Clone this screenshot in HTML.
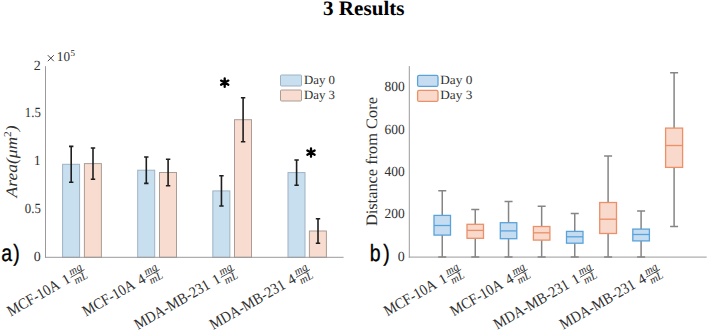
<!DOCTYPE html>
<html><head><meta charset="utf-8">
<style>
html,body{margin:0;padding:0;background:#fff;width:708px;height:330px;overflow:hidden}
svg{display:block}
text{font-family:"Liberation Serif",serif;text-rendering:geometricPrecision}
</style></head><body>
<svg width="708" height="330" viewBox="0 0 708 330">
<text x="323" y="15" font-size="20.5" font-weight="bold" fill="#000" textLength="81.5" lengthAdjust="spacingAndGlyphs">3 Results</text>
<rect x="62.6" y="164.3" width="17.0" height="93.00" fill="#c8dff0" stroke="#9fb2c2" stroke-width="1"/>
<rect x="84.4" y="163.6" width="17.0" height="93.70" fill="#f8dccf" stroke="#ab9c95" stroke-width="1"/>
<rect x="137.7" y="170.2" width="17.0" height="87.10" fill="#c8dff0" stroke="#9fb2c2" stroke-width="1"/>
<rect x="159.5" y="172.5" width="17.0" height="84.80" fill="#f8dccf" stroke="#ab9c95" stroke-width="1"/>
<rect x="212.85" y="190.9" width="17.0" height="66.40" fill="#c8dff0" stroke="#9fb2c2" stroke-width="1"/>
<rect x="234.5" y="119.7" width="17.0" height="137.60" fill="#f8dccf" stroke="#ab9c95" stroke-width="1"/>
<rect x="288.0" y="172.6" width="17.0" height="84.70" fill="#c8dff0" stroke="#9fb2c2" stroke-width="1"/>
<rect x="309.4" y="231.0" width="17.0" height="26.30" fill="#f8dccf" stroke="#ab9c95" stroke-width="1"/>
<path d="M45.5 66.2V257.8M45 257.3H343.6" stroke="#9a9a9a" stroke-width="1" fill="none"/>
<path d="M71.20 146.4V182.20M69.00 146.4h4.4M69.00 182.20h4.4M93.00 148.0V179.20M90.80 148.0h4.4M90.80 179.20h4.4M146.30 157.0V183.40M144.10 157.0h4.4M144.10 183.40h4.4M168.10 159.3V185.70M165.90 159.3h4.4M165.90 185.70h4.4M221.45 175.8V206.00M219.25 175.8h4.4M219.25 206.00h4.4M243.10 97.7V141.70M240.90 97.7h4.4M240.90 141.70h4.4M296.60 160.0V185.20M294.40 160.0h4.4M294.40 185.20h4.4M318.00 218.7V243.30M315.80 218.7h4.4M315.80 243.30h4.4" stroke="#1e1e1e" stroke-width="1.6" fill="none"/>
<path d="M224.70 78.50L224.70 86.90M221.06 80.60L228.34 84.80M228.34 80.60L221.06 84.80" stroke="#000" stroke-width="2.3" stroke-linecap="round" fill="none"/>
<path d="M311.00 148.40L311.00 156.80M307.36 150.50L314.64 154.70M314.64 150.50L307.36 154.70" stroke="#000" stroke-width="2.3" stroke-linecap="round" fill="none"/>
<text x="40.8" y="260.80" font-size="14" text-anchor="end" fill="#303030">0</text>
<text x="40.8" y="213.03" font-size="14" text-anchor="end" fill="#303030" textLength="16" lengthAdjust="spacingAndGlyphs">0.5</text>
<text x="40.8" y="165.25" font-size="14" text-anchor="end" fill="#303030">1</text>
<text x="40.8" y="117.48" font-size="14" text-anchor="end" fill="#303030" textLength="16" lengthAdjust="spacingAndGlyphs">1.5</text>
<text x="40.8" y="69.70" font-size="14" text-anchor="end" fill="#303030">2</text>
<path d="M47.8 55.2L53.8 61.2M53.8 55.2L47.8 61.2" stroke="#303030" stroke-width="0.9"/><text x="56.8" y="61.3" font-size="13.5" fill="#303030" textLength="13.2" lengthAdjust="spacingAndGlyphs">10</text><text x="70.5" y="56.4" font-size="9" fill="#303030">5</text>
<g transform="translate(16.5,161.4) rotate(-90)"><text x="0" y="0" text-anchor="middle" font-size="16" font-style="italic" fill="#303030" textLength="72" lengthAdjust="spacingAndGlyphs">Area(μm<tspan dy="-6" font-size="10.5" font-style="normal">2</tspan><tspan dy="6">)</tspan></text></g>
<rect x="280.5" y="75" width="21" height="11" rx="1" fill="#c8dff0" stroke="#9fb2c2"/>
<rect x="280.5" y="90" width="21" height="11" rx="1" fill="#f8dccf" stroke="#ab9c95"/>
<text x="304" y="84" font-size="12.5" fill="#303030" textLength="31" lengthAdjust="spacingAndGlyphs">Day 0</text>
<text x="304" y="98.6" font-size="12.5" fill="#303030" textLength="31" lengthAdjust="spacingAndGlyphs">Day 3</text>
<g transform="translate(1.2,260.8) scale(0.83,1)"><text x="0" y="0" font-size="23.5" fill="#000" stroke="#000" stroke-width="0.3" letter-spacing="1.5" style="font-family:'Liberation Sans',sans-serif">a)</text></g>
<g transform="translate(369.8,260.8) scale(0.83,1)"><text x="0" y="0" font-size="23.5" fill="#000" stroke="#000" stroke-width="0.3" letter-spacing="3" style="font-family:'Liberation Sans',sans-serif">b)</text></g>
<g transform="translate(86.50,273.00) rotate(-30)" fill="#303030"><text x="-29.5" y="0" font-size="15.5" text-anchor="end" textLength="58" lengthAdjust="spacingAndGlyphs">MCF-10A</text><text x="-17.2" y="0" font-size="14.5" text-anchor="end">1</text><path d="M-16 -4H0" stroke="#303030" stroke-width="0.75"/><text x="-8" y="-5.4" font-size="11" font-style="italic" text-anchor="middle">mg</text><text x="-7.5" y="4.9" font-size="11" font-style="italic" text-anchor="middle">mL</text></g>
<g transform="translate(161.70,273.00) rotate(-30)" fill="#303030"><text x="-29.5" y="0" font-size="15.5" text-anchor="end" textLength="58" lengthAdjust="spacingAndGlyphs">MCF-10A</text><text x="-17.2" y="0" font-size="14.5" text-anchor="end">4</text><path d="M-16 -4H0" stroke="#303030" stroke-width="0.75"/><text x="-8" y="-5.4" font-size="11" font-style="italic" text-anchor="middle">mg</text><text x="-7.5" y="4.9" font-size="11" font-style="italic" text-anchor="middle">mL</text></g>
<g transform="translate(236.70,273.00) rotate(-30)" fill="#303030"><text x="-29.5" y="0" font-size="15.5" text-anchor="end" textLength="84.5" lengthAdjust="spacingAndGlyphs">MDA-MB-231</text><text x="-17.2" y="0" font-size="14.5" text-anchor="end">1</text><path d="M-16 -4H0" stroke="#303030" stroke-width="0.75"/><text x="-8" y="-5.4" font-size="11" font-style="italic" text-anchor="middle">mg</text><text x="-7.5" y="4.9" font-size="11" font-style="italic" text-anchor="middle">mL</text></g>
<g transform="translate(312.00,273.00) rotate(-30)" fill="#303030"><text x="-29.5" y="0" font-size="15.5" text-anchor="end" textLength="84.5" lengthAdjust="spacingAndGlyphs">MDA-MB-231</text><text x="-17.2" y="0" font-size="14.5" text-anchor="end">4</text><path d="M-16 -4H0" stroke="#303030" stroke-width="0.75"/><text x="-8" y="-5.4" font-size="11" font-style="italic" text-anchor="middle">mg</text><text x="-7.5" y="4.9" font-size="11" font-style="italic" text-anchor="middle">mL</text></g>
<path d="M409.3 66.1V257.6M408.8 257.1H706.7" stroke="#9a9a9a" stroke-width="1" fill="none"/>
<text x="404.8" y="260.80" font-size="14" text-anchor="end" fill="#303030">0</text>
<text x="404.8" y="218.40" font-size="14" text-anchor="end" fill="#303030" textLength="20.2" lengthAdjust="spacingAndGlyphs">200</text>
<text x="404.8" y="176.00" font-size="14" text-anchor="end" fill="#303030" textLength="20.2" lengthAdjust="spacingAndGlyphs">400</text>
<text x="404.8" y="133.60" font-size="14" text-anchor="end" fill="#303030" textLength="20.2" lengthAdjust="spacingAndGlyphs">600</text>
<text x="404.8" y="91.20" font-size="14" text-anchor="end" fill="#303030" textLength="20.2" lengthAdjust="spacingAndGlyphs">800</text>
<path d="M442.25 190.8V215.4M442.25 235.1V257.1M438.25 190.8h8M438.25 257.1h8M475.25 209.5V224.3M475.25 238.3V257.1M471.25 209.5h8M471.25 257.1h8M508.55 201.5V222.7M508.55 238.7V257.1M504.55 201.5h8M504.55 257.1h8M541.65 206.3V226.5M541.65 240.1V257.1M537.65 206.3h8M537.65 257.1h8M574.75 213.5V231.4M574.75 243.2V257.1M570.75 213.5h8M570.75 257.1h8M608.10 155.9V202.5M608.10 233.5V257.1M604.10 155.9h8M604.10 257.1h8M641.10 210.9V229.1M641.10 240.9V257.1M637.10 210.9h8M637.10 257.1h8M674.10 72.7V128.1M674.10 167.4V226.4M670.10 72.7h8M670.10 226.4h8" stroke="#858585" stroke-width="1.5" fill="none"/>
<rect x="434.0" y="215.4" width="16.50" height="19.70" fill="#c6ddf1" stroke="#5aa3da" stroke-width="1.3"/><path d="M434.0 225.5H450.5" stroke="#5aa3da" stroke-width="1.3"/>
<rect x="467.0" y="224.3" width="16.50" height="14.00" fill="#f8d9cb" stroke="#eb9068" stroke-width="1.3"/><path d="M467.0 230.4H483.5" stroke="#eb9068" stroke-width="1.3"/>
<rect x="500.3" y="222.7" width="16.50" height="16.00" fill="#c6ddf1" stroke="#5aa3da" stroke-width="1.3"/><path d="M500.3 230.9H516.8" stroke="#5aa3da" stroke-width="1.3"/>
<rect x="533.4" y="226.5" width="16.50" height="13.60" fill="#f8d9cb" stroke="#eb9068" stroke-width="1.3"/><path d="M533.4 232.8H549.9" stroke="#eb9068" stroke-width="1.3"/>
<rect x="566.5" y="231.4" width="16.50" height="11.80" fill="#c6ddf1" stroke="#5aa3da" stroke-width="1.3"/><path d="M566.5 236.8H583.0" stroke="#5aa3da" stroke-width="1.3"/>
<rect x="599.7" y="202.5" width="16.80" height="31.00" fill="#f8d9cb" stroke="#eb9068" stroke-width="1.3"/><path d="M599.7 219.2H616.5" stroke="#eb9068" stroke-width="1.3"/>
<rect x="632.8" y="229.1" width="16.60" height="11.80" fill="#c6ddf1" stroke="#5aa3da" stroke-width="1.3"/><path d="M632.8 234.5H649.4" stroke="#5aa3da" stroke-width="1.3"/>
<rect x="665.6" y="128.1" width="17.00" height="39.30" fill="#f8d9cb" stroke="#eb9068" stroke-width="1.3"/><path d="M665.6 145.5H682.6" stroke="#eb9068" stroke-width="1.3"/>
<rect x="417.6" y="75.4" width="20.4" height="11" rx="1.5" fill="#c6ddf1" stroke="#5aa3da" stroke-width="1.3"/>
<rect x="417.6" y="90.4" width="20.4" height="11" rx="1.5" fill="#f8d9cb" stroke="#eb9068" stroke-width="1.3"/>
<text x="440.3" y="84" font-size="12.5" fill="#303030" textLength="32" lengthAdjust="spacingAndGlyphs">Day 0</text>
<text x="440.3" y="98.6" font-size="12.5" fill="#303030" textLength="32" lengthAdjust="spacingAndGlyphs">Day 3</text>
<g transform="translate(377,161.6) rotate(-90)"><text x="0" y="0" text-anchor="middle" font-size="16" fill="#303030" textLength="129" lengthAdjust="spacingAndGlyphs">Distance from Core</text></g>
<g transform="translate(463.20,272.80) rotate(-30)" fill="#303030"><text x="-29.5" y="0" font-size="15.5" text-anchor="end" textLength="58" lengthAdjust="spacingAndGlyphs">MCF-10A</text><text x="-17.2" y="0" font-size="14.5" text-anchor="end">1</text><path d="M-16 -4H0" stroke="#303030" stroke-width="0.75"/><text x="-8" y="-5.4" font-size="11" font-style="italic" text-anchor="middle">mg</text><text x="-7.5" y="4.9" font-size="11" font-style="italic" text-anchor="middle">mL</text></g>
<g transform="translate(529.60,272.80) rotate(-30)" fill="#303030"><text x="-29.5" y="0" font-size="15.5" text-anchor="end" textLength="58" lengthAdjust="spacingAndGlyphs">MCF-10A</text><text x="-17.2" y="0" font-size="14.5" text-anchor="end">4</text><path d="M-16 -4H0" stroke="#303030" stroke-width="0.75"/><text x="-8" y="-5.4" font-size="11" font-style="italic" text-anchor="middle">mg</text><text x="-7.5" y="4.9" font-size="11" font-style="italic" text-anchor="middle">mL</text></g>
<g transform="translate(595.95,272.80) rotate(-30)" fill="#303030"><text x="-29.5" y="0" font-size="15.5" text-anchor="end" textLength="84.5" lengthAdjust="spacingAndGlyphs">MDA-MB-231</text><text x="-17.2" y="0" font-size="14.5" text-anchor="end">1</text><path d="M-16 -4H0" stroke="#303030" stroke-width="0.75"/><text x="-8" y="-5.4" font-size="11" font-style="italic" text-anchor="middle">mg</text><text x="-7.5" y="4.9" font-size="11" font-style="italic" text-anchor="middle">mL</text></g>
<g transform="translate(662.10,272.80) rotate(-30)" fill="#303030"><text x="-29.5" y="0" font-size="15.5" text-anchor="end" textLength="84.5" lengthAdjust="spacingAndGlyphs">MDA-MB-231</text><text x="-17.2" y="0" font-size="14.5" text-anchor="end">4</text><path d="M-16 -4H0" stroke="#303030" stroke-width="0.75"/><text x="-8" y="-5.4" font-size="11" font-style="italic" text-anchor="middle">mg</text><text x="-7.5" y="4.9" font-size="11" font-style="italic" text-anchor="middle">mL</text></g>
</svg>
</body></html>
